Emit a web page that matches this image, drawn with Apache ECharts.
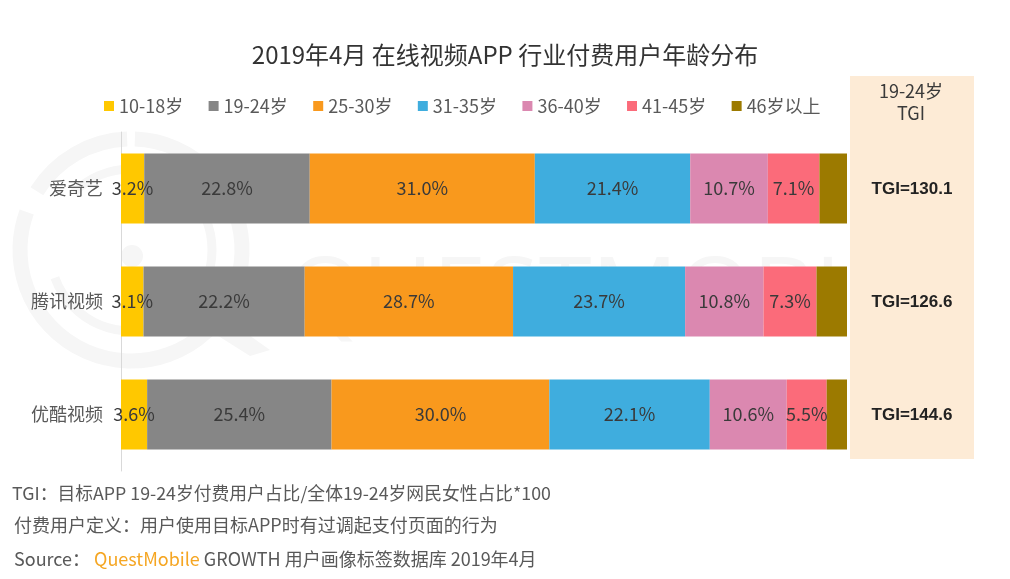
<!DOCTYPE html>
<html lang="en">
  <head>
    <meta charset="utf-8" />
    <title>2019年4月 在线视频APP 行业付费用户年龄分布</title>
    <script src="https://cdn.jsdelivr.net/npm/echarts@6/dist/echarts.min.js"></script>
    <style>
      html, body { margin: 0; padding: 0; background: #fff; }
      #main { width: 1010px; height: 579px; }
    </style>
  </head>
  <body>
    <div id="main"></div>
    <script>
      var fontName = '"Noto Sans CJK SC", sans-serif';
      var titleText = "2019年4月 在线视频APP 行业付费用户年龄分布";
      var apps = ["爱奇艺", "腾讯视频", "优酷视频"];
      var ageGroups = ["10-18岁", "19-24岁", "25-30岁", "31-35岁", "36-40岁", "41-45岁", "46岁以上"];
      var colors = ["#ffc800", "#868686", "#f9991d", "#3fadde", "#db88b0", "#fb6b7a", "#9c7a00"];
      var age1018 = [3.2, 3.1, 3.6];
      var age1924 = [22.8, 22.2, 25.4];
      var age2530 = [31.0, 28.7, 30.0];
      var age3135 = [21.4, 23.7, 22.1];
      var age3640 = [10.7, 10.8, 10.6];
      var age4145 = [7.1, 7.3, 5.5];
      var age46 = [3.8, 4.2, 2.8];
      var tgiValues = ["TGI=130.1", "TGI=126.6", "TGI=144.6"];
      var seriesValues = [age1018, age1924, age2530, age3135, age3640, age4145, age46];

      var myChart = echarts.init(document.getElementById("main"));

      var series = ageGroups.map(function (name, i) {
        return {
          name: name,
          type: "bar",
          stack: "total",
          barWidth: 70,
          itemStyle: { color: colors[i] },
          label: {
            // 46岁以上 没有数字
            show: i < 6,
            position: "inside",
            color: "#3a3a3a",
            fontSize: 18,
            fontFamily: fontName,
            formatter: function (p) {
              return p.value.toFixed(1) + "%";
            },
          },
          data: seriesValues[i],
        };
      });

      // 水印圆环
      function arc(r, width, start, end) {
        return {
          type: "arc",
          z: -1,
          shape: { cx: 131, cy: 250, r: r, startAngle: (start * Math.PI) / 180, endAngle: (end * Math.PI) / 180 },
          style: { stroke: "#f6f6f6", lineWidth: width, fill: null },
        };
      }

      // 水印、右侧TGI底色、脚注
      var graphic = [
        arc(111, 15, 212, 268),
        arc(111, 15, 272, 560),
        arc(81, 9, 225, 520),
        { type: "circle", z: -1, shape: { cx: 132, cy: 256, r: 11 }, style: { fill: "#f6f6f6" } },
        { type: "polygon", z: -1, shape: { points: [[225, 318], [270, 350], [250, 356], [212, 332]] }, style: { fill: "#f6f6f6" } },
        { type: "text", z: -1, x: 288, y: 346, style: { text: "QUESTMOBILE", font: '96px "Open Sans"', fill: "#f6f6f6", textVerticalAlign: "bottom" } },
        { type: "rect", z: -1, shape: { x: 850, y: 76, width: 124, height: 383 }, style: { fill: "#fdebd6" } },
        { type: "text", x: 911, y: 91, style: { text: "19-24岁", font: '18px ' + fontName, fill: "#3a3a3a", textAlign: "center", textVerticalAlign: "middle" } },
        { type: "text", x: 911, y: 113, style: { text: "TGI", font: '18px ' + fontName, fill: "#3a3a3a", textAlign: "center", textVerticalAlign: "middle" } },
        { type: "text", x: 12, y: 493, style: { text: "TGI：目标APP 19-24岁付费用户占比/全体19-24岁网民女性占比*100", font: '17.8px ' + fontName, fill: "#595959", textVerticalAlign: "middle" } },
        { type: "text", x: 14, y: 525, style: { text: "付费用户定义：用户使用目标APP时有过调起支付页面的行为", font: '18px ' + fontName, fill: "#595959", textVerticalAlign: "middle" } },
        {
          type: "text",
          x: 14,
          y: 559,
          style: {
            text: "{a|Source：}{b|QuestMobile}{a| GROWTH 用户画像标签数据库 2019年4月}",
            textVerticalAlign: "middle",
            rich: {
              a: { font: '18px ' + fontName, fill: "#595959" },
              b: { font: '18px ' + fontName, fill: "#f5a623", padding: [0, 0, 0, 4] },
            },
          },
        },
      ];
      tgiValues.forEach(function (t, i) {
        graphic.push({
          type: "text",
          x: 912,
          y: 189.5 + i * 113,
          style: { text: t, font: 'bold 17px "Liberation Sans", sans-serif', fill: "#222", textAlign: "center", textVerticalAlign: "middle" },
        });
      });

      var option = {
        animation: false,
        title: {
          text: titleText,
          left: 500,
          top: 38,
          textAlign: "center",
          textStyle: { fontSize: 24, fontWeight: "normal", color: "#333", fontFamily: fontName },
        },
        legend: {
          data: ageGroups,
          left: 99,
          top: 92,
          itemWidth: 10,
          itemHeight: 10,
          itemGap: 25.4,
          icon: "rect",
          textStyle: { fontSize: 18, color: "#595959", fontFamily: fontName },
        },
        grid: { left: 121, right: 163, top: 132, bottom: 108 },
        xAxis: { type: "value", min: 0, max: 100, show: false },
        yAxis: {
          type: "category",
          inverse: true,
          data: apps,
          axisLine: { lineStyle: { color: "#d9d9d9" } },
          axisTick: { show: false },
          axisLabel: { fontSize: 18, color: "#595959", margin: 18, fontFamily: fontName },
        },
        graphic: graphic,
        series: series,
      };

      myChart.setOption(option);
    </script>
  </body>
</html>
